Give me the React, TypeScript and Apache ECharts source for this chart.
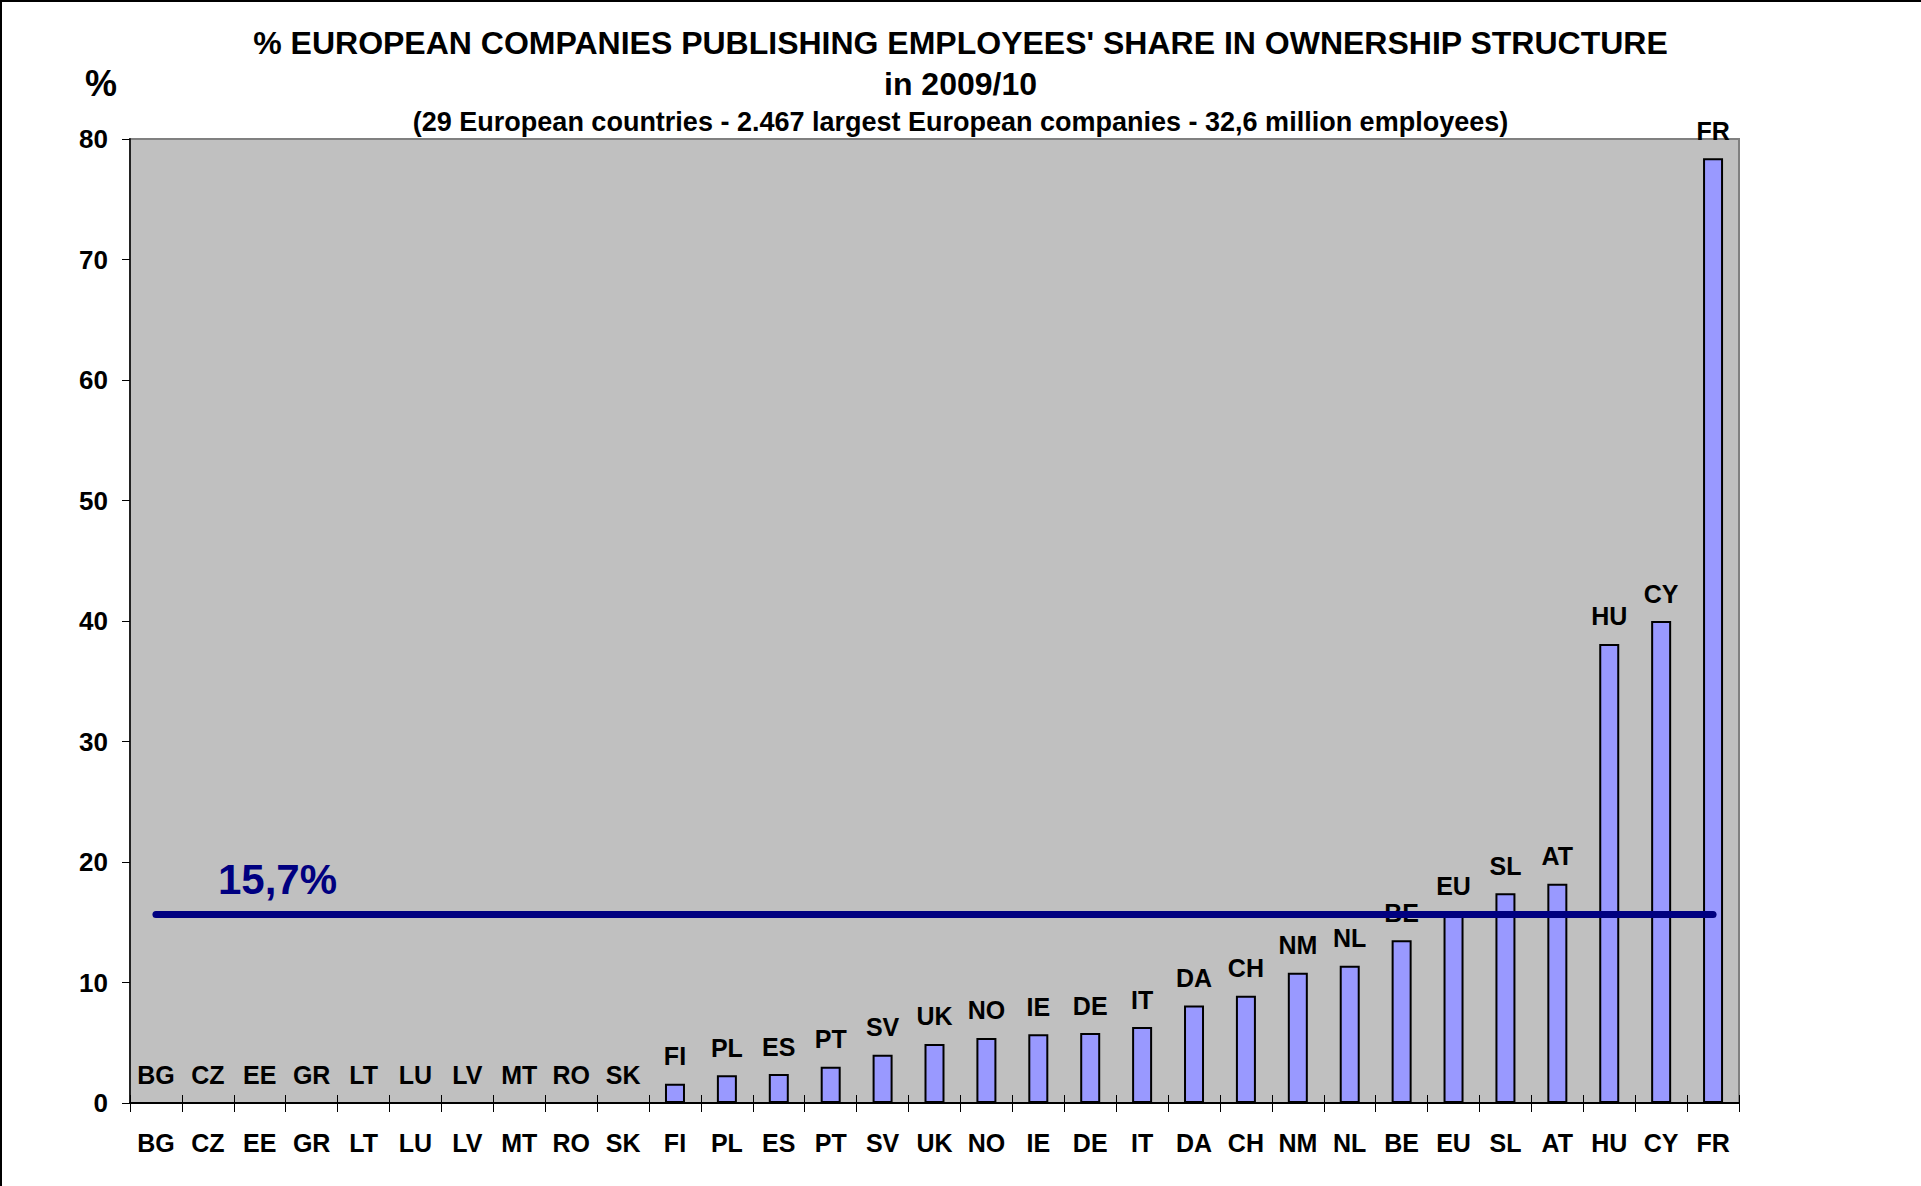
import React, { useEffect, useRef } from "react";
import * as echarts from "echarts";

const categories = [
  "BG", "CZ", "EE", "GR", "LT", "LU", "LV", "MT", "RO", "SK",
  "FI", "PL", "ES", "PT", "SV", "UK", "NO", "IE", "DE", "IT",
  "DA", "CH", "NM", "NL", "BE", "EU", "SL", "AT", "HU", "CY", "FR",
];
const values = [
  0, 0, 0, 0, 0, 0, 0, 0, 0, 0,
  1.6, 2.3, 2.4, 3.0, 4.0, 4.9, 5.4, 5.7, 5.8, 6.3,
  8.1, 8.9, 10.8, 11.4, 13.5, 15.7, 17.4, 18.2, 38.1, 40.0, 78.4,
];
const yMin = 0;
const yMax = 80;
const yInterval = 10;
const euAverage = 15.7;
const euAverageLabel = "15,7%";

const titleLine1 = "% EUROPEAN COMPANIES PUBLISHING EMPLOYEES' SHARE IN OWNERSHIP STRUCTURE";
const titleLine2 = "in 2009/10";
const subtitle = "(29 European countries - 2.467 largest European companies - 32,6 million employees)";
const yAxisName = "%";

const FONT = "Liberation Sans, Arial, Helvetica, sans-serif";

export default function App() {
  const ref = useRef<HTMLDivElement>(null);

  useEffect(() => {
    if (!ref.current) return;
    const chart = echarts.init(ref.current, null, { renderer: "svg" });
    const option: any = {
      animation: false,
      backgroundColor: "#ffffff",
      textStyle: { fontFamily: FONT },
      title: [
        {
          text: titleLine1,
          left: "center",
          top: 22,
          textStyle: { fontFamily: FONT, fontSize: 32, fontWeight: "bold", color: "#000" },
        },
        {
          text: titleLine2,
          left: "center",
          top: 63,
          textStyle: { fontFamily: FONT, fontSize: 32, fontWeight: "bold", color: "#000" },
        },
        {
          text: subtitle,
          left: "center",
          top: 103,
          textStyle: { fontFamily: FONT, fontSize: 27, fontWeight: "bold", color: "#000" },
        },
      ],
      grid: {
        left: 130,
        top: 139,
        right: 182,
        bottom: 83,
        show: true,
        backgroundColor: "#C0C0C0",
        borderColor: "#808080",
        borderWidth: 2,
      },
      xAxis: [
        {
          type: "category",
          data: categories,
          position: "bottom",
          axisLine: { show: true, lineStyle: { color: "#000", width: 2 } },
          axisTick: { show: true, inside: false, length: 9, lineStyle: { color: "#000", width: 1 } },
          axisLabel: {
            interval: 0,
            margin: 27,
            fontFamily: FONT,
            fontSize: 25,
            fontWeight: "bold",
            color: "#000",
          },
        },
        {
          type: "category",
          data: categories,
          position: "bottom",
          gridIndex: 0,
          axisLine: { show: false },
          axisTick: { show: true, inside: true, length: 8, lineStyle: { color: "#000", width: 1 } },
          axisLabel: { show: false },
        },
      ],
      yAxis: {
        type: "value",
        min: yMin,
        max: yMax,
        interval: yInterval,
        splitLine: { show: false },
        axisLine: { show: true, lineStyle: { color: "#222", width: 2 } },
        axisTick: { show: true, inside: false, length: 8, lineStyle: { color: "#000", width: 1 } },
        axisLabel: {
          margin: 22,
          fontFamily: FONT,
          fontSize: 26,
          fontWeight: "bold",
          color: "#000",
        },
      },
      series: [
        {
          type: "bar",
          data: values,
          barWidth: 20,
          itemStyle: { color: "#9999FF", borderColor: "#000", borderWidth: 2 },
          label: {
            show: true,
            position: "top",
            distance: 15,
            formatter: "{b}",
            fontFamily: FONT,
            fontSize: 25,
            fontWeight: "bold",
            color: "#000",
          },
          markLine: {
            silent: true,
            symbol: ["none", "none"],
            label: { show: false },
            z: 5,
            lineStyle: { color: "#000080", width: 7, type: "solid", cap: "round" },
            data: [
              [
                { coord: [categories[0], euAverage] },
                { coord: [categories[categories.length - 1], euAverage] },
              ],
            ],
          },
        },
      ],
    };
    chart.setOption(option);

    const p = chart.convertToPixel({ gridIndex: 0 }, [categories[0], euAverage]) as number[];
    chart.setOption({
      graphic: [
        { type: "rect", shape: { x: 0, y: 0, width: 1921, height: 2 }, style: { fill: "#000" }, silent: true },
        { type: "rect", shape: { x: 0, y: 0, width: 2, height: 1186 }, style: { fill: "#000" }, silent: true },
        {
          type: "text",
          x: 101,
          y: 83,
          style: {
            text: yAxisName,
            font: `bold 36px ${FONT}`,
            fill: "#000",
            align: "center",
            verticalAlign: "middle",
          },
        },
        {
          type: "text",
          x: p[0] + 62,
          y: p[1] - 34,
          z: 10,
          style: {
            text: euAverageLabel,
            font: `bold 42px ${FONT}`,
            fill: "#000080",
            align: "left",
            verticalAlign: "middle",
          },
        },
      ],
    });

    return () => chart.dispose();
  }, []);

  return (
    <div
      ref={ref}
      style={{ position: "absolute", left: 0, top: 0, width: 1921, height: 1186 }}
    />
  );
}
